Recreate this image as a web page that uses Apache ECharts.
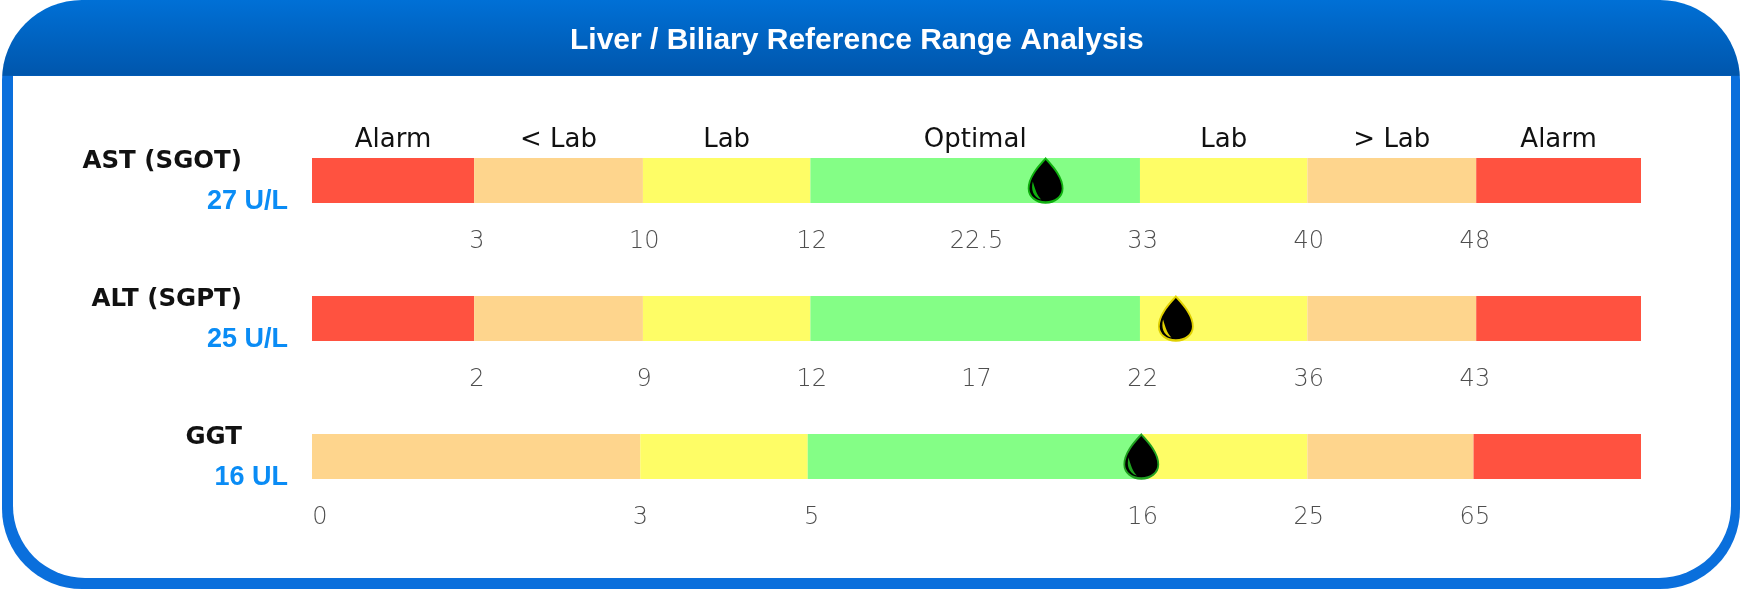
<!DOCTYPE html>
<html><head><meta charset="utf-8">
<style>html,body{margin:0;padding:0;background:#fff}#c{width:1743px;height:590px}</style>
<script src="https://cdn.jsdelivr.net/npm/echarts@6/dist/echarts.min.js"></script>
</head><body><div id="c"></div>
<script>
const titleText = 'Liver / Biliary Reference Range Analysis';
const tests = ['AST (SGOT)', 'ALT (SGPT)', 'GGT'];
const results = ['27 U/L', '25 U/L', '16 UL'];
const zoneNames = ['Alarm', '< Lab', 'Lab', 'Optimal', 'Lab', '> Lab', 'Alarm'];
const zoneColors = ['#ff5240', '#fed58d', '#fefd66', '#84fe86', '#fefd66', '#fed58d', '#ff5240'];
// share of the scale (percent) taken by each zone, one row per test
const astZones = [12.2, 12.7, 12.6, 24.8, 12.6, 12.7, 12.4];
const altZones = [12.2, 12.7, 12.6, 24.8, 12.6, 12.7, 12.4];
const ggtZones = [0, 24.7, 12.6, 25, 12.6, 12.5, 12.6];
const zoneRows = [astZones, altZones, ggtZones];
// tick labels and where they sit on the scale
const astTicks = ['3', '10', '12', '22.5', '33', '40', '48'];
const astTickPos = [12.4, 25, 37.6, 50, 62.5, 75, 87.5];
const altTicks = ['2', '9', '12', '17', '22', '36', '43'];
const altTickPos = [12.4, 25, 37.6, 50, 62.5, 75, 87.5];
const ggtTicks = ['0', '3', '5', '16', '25', '65'];
const ggtTickPos = [0.6, 24.7, 37.6, 62.5, 75, 87.5];
const tickRows = [[astTicks, astTickPos], [altTicks, altTickPos], [ggtTicks, ggtTickPos]];
// marker position on the scale
const markerPos = [55.2, 65, 62.4];
const markerEdge = ['#10b010', '#e0d000', '#20a020'];

const dropPath = 'path://M32 0C40 10 64 34 64 60C64 76 50 88 32 88C14 88 0 76 0 60C0 34 24 10 32 0Z';
const glintPath = 'path://M4 0C0 14 4 30 20 34C12 26 8 14 4 0Z';

const zoneSeries = zoneNames.map((name, i) => ({
  type: 'bar', stack: 'zones', name, barWidth: 45,
  data: zoneRows.map(r => r[i]),
  itemStyle: { color: zoneColors[i] },
  silent: true,
  label: {
    show: true, position: 'top', distance: 5, color: '#111',
    fontFamily: 'DejaVu Sans', fontSize: 26, fontWeight: 'normal',
    formatter: p => p.dataIndex === 0 ? zoneNames[i] : ''
  }
}));

const tickData = [];
tickRows.forEach(([labels, pos], row) => labels.forEach((t, i) => tickData.push({ value: [pos[i], row], tick: t })));

const option = {
  animation: false,
  title: {
    text: titleText, left: 565, top: 21,
    textStyle: { color: '#fff', fontFamily: 'Liberation Sans', fontSize: 30, fontWeight: 'bold' }
  },
  graphic: [
    { type: 'rect', z: -10, shape: { x: 2, y: 0, width: 1738, height: 589, r: 80 },
      style: { fill: { type: 'linear', x: 0, y: 0, x2: 0, y2: 1, colorStops: [
        { offset: 0, color: '#0070d6' }, { offset: 0.128, color: '#0056ac' },
        { offset: 0.129, color: '#0a6fdc' }, { offset: 1, color: '#0a6fdc' }] } } },
    { type: 'rect', z: -9, shape: { x: 13, y: 76, width: 1718, height: 502, r: [0, 0, 72, 72] },
      style: { fill: '#fff' } }
  ],
  grid: { left: 312, top: 111.5, width: 1329, height: 414, containLabel: false },
  xAxis: { type: 'value', min: 0, max: 100, show: false },
  yAxis: {
    type: 'category', inverse: true, data: tests,
    axisLine: { show: false }, axisTick: { show: false },
    axisLabel: {
      margin: 24, align: 'right',
      formatter: (v, i) => `{n|${v}}\n{v|${results[i]}}`,
      rich: {
        n: { fontFamily: 'DejaVu Sans', fontWeight: 'bold', fontSize: 24.5, color: '#111', lineHeight: 42, padding: [4, 46, 0, 0] },
        v: { fontFamily: 'Liberation Sans', fontWeight: 'bold', fontSize: 27, color: '#0a8cf5', lineHeight: 42 }
      }
    }
  },
  series: [
    ...zoneSeries,
    { type: 'scatter', name: 'ticks', symbolSize: 0, silent: true, data: tickData, z: 3,
      label: { show: true, position: 'inside', offset: [0, 61], color: '#222',
        fontFamily: 'DejaVu Sans', fontWeight: 200, fontSize: 24,
        formatter: p => p.data.tick } },
    { type: 'scatter', name: 'result', symbol: dropPath, symbolSize: [34, 44], silent: true, z: 4,
      data: markerPos.map((x, row) => ({ value: [x, row], itemStyle: { opacity: 1, color: '#000', borderColor: markerEdge[row], borderWidth: 2 } })) },
    { type: 'scatter', name: 'glint', symbol: glintPath, symbolSize: [9, 18], symbolOffset: [-9, 10], silent: true, z: 5,
      data: markerPos.map((x, row) => ({ value: [x, row], itemStyle: { opacity: 1, color: markerEdge[row] } })) }
  ]
};
echarts.init(document.getElementById('c'), null, { renderer: 'canvas' }).setOption(option);
</script></body></html>
